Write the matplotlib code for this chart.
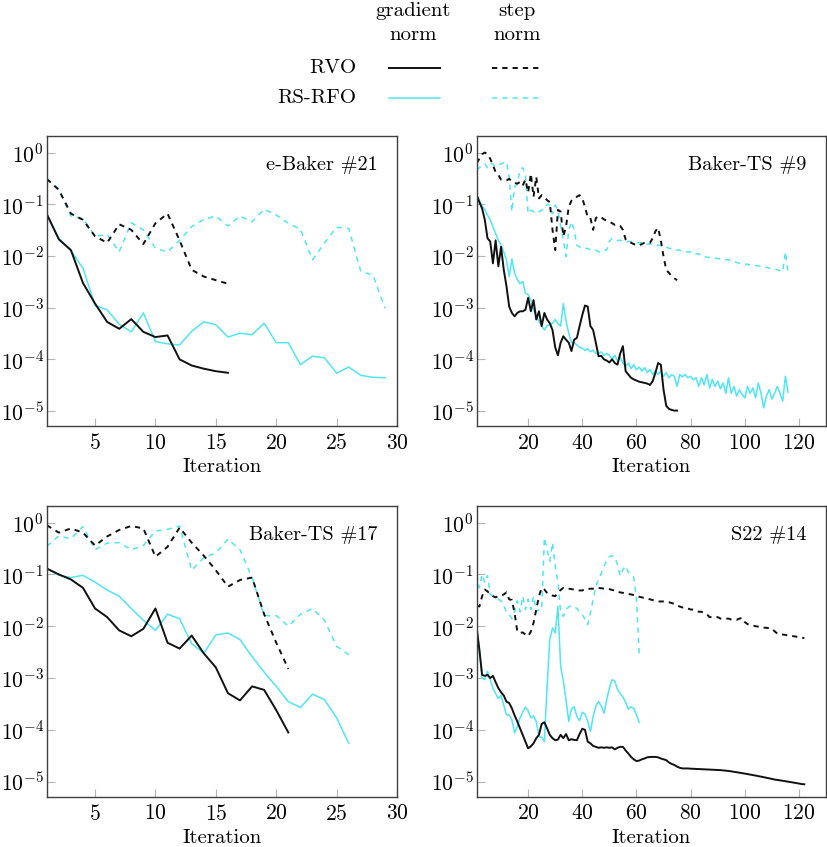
import numpy as np
import matplotlib
matplotlib.use("Agg")
import matplotlib.pyplot as plt
from matplotlib.lines import Line2D
from matplotlib.ticker import NullLocator

plt.rcParams['font.family'] = ['cmr10', 'DejaVu Serif']
plt.rcParams['mathtext.fontset'] = 'cm'
plt.rcParams['axes.formatter.use_mathtext'] = True
plt.rcParams['lines.scale_dashes'] = False

# ---------------- data ----------------
# Panel 1: e-Baker #21
p1_rvo_grad = [0.065, 0.021, 0.013, 0.003, 0.0012, 5.3e-4, 3.9e-4, 6.0e-4, 3.4e-4, 2.7e-4,
               2.9e-4, 1.0e-4, 7.6e-5, 6.6e-5, 5.9e-5, 5.5e-5]
p1_rvo_step = [0.31, 0.19, 0.066, 0.05, 0.024, 0.018, 0.041, 0.032, 0.017, 0.043,
               0.066, 0.02, 0.0054, 0.004, 0.0034, 0.0029]
p1_rs_grad = [0.065, 0.022, 0.0127, 0.0058, 0.0011, 9.1e-4, 4.8e-4, 3.4e-4, 7.9e-4, 2.2e-4,
              2.0e-4, 1.9e-4, 3.5e-4, 5.3e-4, 4.7e-4, 2.7e-4, 3.2e-4, 3.0e-4, 5.0e-4, 2.1e-4,
              2.1e-4, 7.9e-5, 1.15e-4, 1.07e-4, 5.4e-5, 7.1e-5, 4.9e-5, 4.5e-5, 4.4e-5]
p1_rs_step = [0.31, 0.2, 0.059, 0.053, 0.024, 0.026, 0.012, 0.044, 0.032, 0.014,
              0.012, 0.020, 0.037, 0.051, 0.059, 0.038, 0.059, 0.046, 0.080, 0.062,
              0.043, 0.033, 0.0084, 0.018, 0.036, 0.034, 0.005, 0.0043, 0.00098]

# Panel 2: Baker-TS #9
p2_rvo_grad = [1.5e-1, 1.1e-1, 8.3e-2, 5.0e-2, 2.2e-2, 1.9e-2, 7.2e-3, 2.0e-2, 6.3e-3, 1.5e-2,
               5.4e-3, 2.6e-3, 1.05e-3, 7.9e-4, 6.8e-4, 7.9e-4, 8.5e-4, 8.5e-4, 9.1e-4, 1.55e-3,
               8.5e-4, 1.4e-3, 5.9e-4, 8.5e-4, 4.4e-4, 7.9e-4, 5.9e-4, 5.0e-4, 3.7e-4, 1.7e-4,
               1.2e-4, 2.1e-4, 2.8e-4, 2.4e-4, 2.1e-4, 1.45e-4, 2.4e-4, 2.6e-4, 4.4e-4, 7.2e-4,
               1.1e-3, 1.05e-3, 4.4e-4, 3.7e-4, 2.1e-4, 1.15e-4, 1.17e-4, 1.0e-4, 9.5e-5, 8.7e-5,
               1.0e-4, 8.5e-5, 7.9e-5, 1.3e-4, 1.8e-4, 5.9e-5, 5.1e-5, 4.4e-5, 4.1e-5, 3.9e-5,
               3.7e-5, 3.6e-5, 3.5e-5, 3.4e-5, 3.2e-5, 3.8e-5, 5.5e-5, 8.5e-5, 7.9e-5, 2.6e-5,
               1.26e-5, 1.1e-5, 1.05e-5, 1.02e-5, 1.02e-5]
p2_rvo_step = [0.62, 0.76, 0.93, 1.0, 0.93, 0.76, 0.57, 0.42, 0.37, 0.30,
               0.29, 0.29, 0.31, 0.28, 0.26, 0.25, 0.27, 0.23, 0.30, 0.17,
               0.39, 0.14, 0.34, 0.13, 0.15, 0.14, 0.12, 0.11, 0.032, 0.013,
               0.078, 0.072, 0.024, 0.037, 0.089, 0.117, 0.13, 0.14, 0.15, 0.13,
               0.089, 0.056, 0.054, 0.032, 0.054, 0.059, 0.056, 0.051, 0.048, 0.046,
               0.043, 0.040, 0.040, 0.038, 0.032, 0.021, 0.019, 0.018, 0.017, 0.016,
               0.016, 0.017, 0.018, 0.018, 0.018, 0.022, 0.030, 0.035, 0.020, 0.0098,
               0.0054, 0.0047, 0.0041, 0.0037, 0.0034]
p2_rs_grad = [1.5e-1, 1.2e-1, 9.3e-2, 7.8e-2, 6.2e-2, 5.0e-2, 3.7e-2, 2.7e-2, 2.0e-2, 1.6e-2,
              1.2e-2, 8.3e-3, 4.0e-3, 8.7e-3, 4.7e-3, 3.5e-3, 2.9e-3, 3.2e-3, 1.9e-3, 1.8e-3,
              1.4e-3, 9.1e-4, 6.8e-4, 5.5e-4, 4.4e-4, 3.7e-4, 4.5e-4, 4.7e-4, 5.0e-4, 5.9e-4,
              4.9e-4, 4.4e-4, 1.2e-3, 5.5e-4, 3.2e-4, 2.1e-4, 2.1e-4, 1.9e-4, 1.7e-4, 1.65e-4,
              1.5e-4, 1.6e-4, 1.4e-4, 1.5e-4, 1.3e-4, 1.3e-4, 1.4e-4, 1.2e-4, 1.3e-4, 1.2e-4,
              1.0e-4, 1.2e-4, 9.2e-5, 1.1e-4, 8.5e-5, 7.4e-5, 8.5e-5, 6.6e-5, 7.9e-5, 6.3e-5,
              7.1e-5, 5.9e-5, 6.9e-5, 5.6e-5, 6.3e-5, 5.1e-5, 5.9e-5, 5.1e-5, 5.9e-5, 4.7e-5,
              5.5e-5, 4.4e-5, 5.1e-5, 4.7e-5, 3.0e-5, 5.1e-5, 4.6e-5, 5.1e-5, 4.4e-5, 4.7e-5,
              4.0e-5, 4.4e-5, 3.0e-5, 4.4e-5, 3.2e-5, 5.1e-5, 2.8e-5, 4.1e-5, 3.0e-5, 3.8e-5,
              2.7e-5, 3.5e-5, 2.2e-5, 4.4e-5, 2.2e-5, 3.0e-5, 1.95e-5, 2.6e-5, 2.1e-5, 1.8e-5,
              3.0e-5, 2.2e-5, 2.8e-5, 1.8e-5, 3.5e-5, 2.2e-5, 1.15e-5, 1.95e-5, 2.6e-5, 1.7e-5,
              2.2e-5, 3.0e-5, 2.2e-5, 1.55e-5, 4.7e-5, 2.3e-5]
p2_rs_step = [0.46, 0.51, 0.57, 0.61, 0.51, 0.61, 0.60, 0.53, 0.57, 0.61,
              0.63, 0.66, 0.34, 0.072, 0.22, 0.25, 0.46, 0.51, 0.37, 0.066,
              0.077, 0.072, 0.066, 0.072, 0.077, 0.083, 0.10, 0.096, 0.066, 0.096,
              0.077, 0.037, 0.020, 0.0098, 0.032, 0.046, 0.032, 0.016, 0.015, 0.014,
              0.014, 0.014, 0.013, 0.013, 0.013, 0.012, 0.012, 0.013, 0.013, 0.019,
              0.022, 0.021, 0.020, 0.020, 0.020, 0.019, 0.019, 0.019, 0.018, 0.018,
              0.018, 0.018, 0.017, 0.017, 0.017, 0.017, 0.016, 0.016, 0.016, 0.015,
              0.015, 0.014, 0.014, 0.013, 0.013, 0.013, 0.012, 0.012, 0.012, 0.012,
              0.011, 0.011, 0.011, 0.010, 0.010, 0.0095, 0.0093, 0.0091, 0.0090, 0.0089,
              0.0088, 0.0087, 0.0085, 0.0084, 0.0080, 0.0078, 0.0075, 0.0072, 0.0071, 0.0070,
              0.0069, 0.0067, 0.0066, 0.0065, 0.0064, 0.0063, 0.0061, 0.0060, 0.0058, 0.0057,
              0.0056, 0.0054, 0.0052, 0.0050, 0.012, 0.0047]

# Panel 3: Baker-TS #17
p3_rvo_grad = [0.13, 0.10, 0.080, 0.055, 0.022, 0.015, 0.0083, 0.0064, 0.0089, 0.022,
               0.0048, 0.0037, 0.0066, 0.0030, 0.0016, 5.1e-4, 3.7e-4, 6.9e-4, 5.9e-4, 2.4e-4,
               8.9e-5]
p3_rvo_step = [0.89, 0.64, 0.77, 0.64, 0.36, 0.54, 0.72, 0.86, 0.77, 0.22,
               0.34, 0.80, 0.41, 0.23, 0.12, 0.058, 0.078, 0.087, 0.017, 0.0048,
               0.0015]
p3_rs_grad = [0.13, 0.096, 0.087, 0.096, 0.071, 0.050, 0.038, 0.022, 0.013, 0.0083,
              0.017, 0.014, 0.0046, 0.0030, 0.0068, 0.0074, 0.0055, 0.0026, 0.0013, 6.9e-4,
              3.5e-4, 2.7e-4, 4.9e-4, 3.8e-4, 1.7e-4, 5.5e-5]
p3_rs_step = [0.35, 0.55, 0.49, 0.84, 0.30, 0.40, 0.41, 0.30, 0.36, 0.69,
              0.74, 0.86, 0.12, 0.21, 0.26, 0.48, 0.30, 0.087, 0.016, 0.016,
              0.010, 0.017, 0.022, 0.013, 0.0041, 0.0028]

# Panel 4: S22 #14
p4_rvo_grad = [9.3e-3, 3.5e-3, 1.15e-3, 1.1e-3, 1.15e-3, 1.0e-3, 1.1e-3, 8.3e-4, 6.4e-4, 5.3e-4,
               4.6e-4, 3.5e-4, 3.3e-4, 2.6e-4, 1.9e-4, 1.45e-4, 1.07e-4, 8.0e-5, 5.9e-5, 4.4e-5,
               4.8e-5, 5.5e-5, 6.9e-5, 8.0e-5, 1.3e-4, 1.4e-4, 1.07e-4, 8.0e-5, 6.9e-5, 6.3e-5,
               6.5e-5, 8.0e-5, 6.9e-5, 8.3e-5, 6.3e-5, 6.6e-5, 6.4e-5, 6.3e-5, 8.3e-5, 1.05e-4,
               1.0e-4, 5.9e-5, 5.5e-5, 4.9e-5, 4.7e-5, 4.5e-5, 4.6e-5, 4.5e-5, 4.6e-5, 4.5e-5,
               4.6e-5, 4.2e-5, 4.5e-5, 4.7e-5, 4.7e-5, 4.0e-5, 3.5e-5, 3.0e-5, 2.7e-5, 2.5e-5,
               2.55e-5, 2.7e-5, 2.8e-5, 2.95e-5, 3.0e-5, 3.0e-5, 3.0e-5, 2.95e-5, 2.8e-5, 2.7e-5,
               2.6e-5, 2.35e-5, 2.2e-5, 2.1e-5, 1.95e-5, 1.85e-5, 1.8e-5, 1.8e-5, 1.8e-5, 1.78e-5,
               1.77e-5, 1.76e-5, 1.75e-5, 1.74e-5, 1.73e-5, 1.72e-5, 1.71e-5, 1.70e-5, 1.69e-5, 1.68e-5,
               1.67e-5, 1.65e-5, 1.63e-5, 1.61e-5, 1.58e-5, 1.55e-5, 1.52e-5, 1.49e-5, 1.46e-5, 1.43e-5,
               1.40e-5, 1.37e-5, 1.34e-5, 1.31e-5, 1.28e-5, 1.25e-5, 1.22e-5, 1.19e-5, 1.16e-5, 1.13e-5,
               1.10e-5, 1.08e-5, 1.06e-5, 1.04e-5, 1.02e-5, 1.0e-5, 9.8e-6, 9.6e-6, 9.4e-6, 9.2e-6,
               9.0e-6, 8.9e-6]
p4_rvo_step = [0.025, 0.024, 0.038, 0.051, 0.047, 0.041, 0.038, 0.036, 0.038, 0.039,
               0.041, 0.045, 0.033, 0.032, 0.018, 0.0079, 0.0074, 0.0076, 0.0069, 0.0064,
               0.0079, 0.0116, 0.021, 0.038, 0.055, 0.051, 0.044, 0.041, 0.039, 0.038,
               0.045, 0.050, 0.055, 0.053, 0.053, 0.052, 0.051, 0.049, 0.049, 0.049,
               0.052, 0.052, 0.053, 0.053, 0.053, 0.055, 0.054, 0.053, 0.053, 0.052,
               0.050, 0.049, 0.046, 0.045, 0.044, 0.043, 0.042, 0.041, 0.040, 0.039,
               0.037, 0.036, 0.035, 0.034, 0.033, 0.032, 0.031, 0.030, 0.030, 0.030,
               0.029, 0.029, 0.028, 0.027, 0.025, 0.024, 0.023, 0.023, 0.022, 0.021,
               0.021, 0.020, 0.019, 0.019, 0.018, 0.017, 0.015, 0.015, 0.015, 0.015,
               0.014, 0.014, 0.014, 0.014, 0.0135, 0.0135, 0.0133, 0.0140, 0.0145, 0.0120,
               0.0110, 0.0105, 0.0103, 0.0100, 0.0098, 0.0096, 0.0094, 0.0093, 0.0092, 0.0090,
               0.0080, 0.0072, 0.0070, 0.0069, 0.0068, 0.0066, 0.0065, 0.0064, 0.0063, 0.0061,
               0.0060, 0.0059]
p4_rs_grad = [9.3e-3, 3.5e-3, 1.0e-3, 9.3e-4, 1.35e-3, 9.3e-4, 6.4e-4, 5.0e-4, 4.0e-4, 4.6e-4,
              3.0e-4, 1.95e-4, 1.95e-4, 1.55e-4, 8.7e-5, 1.15e-4, 1.7e-4, 2.2e-4, 2.75e-4, 2.35e-4,
              1.7e-4, 1.85e-4, 1.45e-4, 7.4e-5, 7.2e-5, 5.9e-5, 6.9e-4, 5.5e-3, 9.3e-3, 7.4e-3,
              2.4e-2, 1.7e-3, 8.7e-4, 3.8e-4, 1.45e-4, 2.5e-4, 2.8e-4, 1.8e-4, 1.5e-4, 2.2e-4,
              2.0e-4, 1.45e-4, 9.3e-5, 1.8e-4, 2.9e-4, 3.5e-4, 2.9e-4, 2.1e-4, 3.8e-4, 6.4e-4,
              9.3e-4, 8.7e-4, 6.0e-4, 5.0e-4, 4.3e-4, 3.4e-4, 2.5e-4, 2.8e-4, 2.6e-4, 1.95e-4,
              1.4e-4]
p4_rs_step = [0.10, 0.055, 0.10, 0.069, 0.095, 0.041, 0.038, 0.037, 0.033, 0.031,
              0.025, 0.019, 0.017, 0.014, 0.019, 0.031, 0.019, 0.038, 0.021, 0.033,
              0.021, 0.038, 0.019, 0.021, 0.021, 0.51, 0.30, 0.18, 0.41, 0.145,
              0.069, 0.018, 0.0155, 0.021, 0.0235, 0.025, 0.0235, 0.022, 0.019, 0.017,
              0.0135, 0.0107, 0.018, 0.033, 0.059, 0.080, 0.105, 0.145, 0.18, 0.22,
              0.23, 0.22, 0.155, 0.093, 0.125, 0.145, 0.11, 0.10, 0.087, 0.033,
              0.0030]

panels = [
    ("e-Baker #21", p1_rvo_grad, p1_rvo_step, p1_rs_grad, p1_rs_step, (1, 30), [5, 10, 15, 20, 25, 30]),
    ("Baker-TS #9", p2_rvo_grad, p2_rvo_step, p2_rs_grad, p2_rs_step, (1, 130), [20, 40, 60, 80, 100, 120]),
    ("Baker-TS #17", p3_rvo_grad, p3_rvo_step, p3_rs_grad, p3_rs_step, (1, 30), [5, 10, 15, 20, 25, 30]),
    ("S22 #14", p4_rvo_grad, p4_rvo_step, p4_rs_grad, p4_rs_step, (1, 130), [20, 40, 60, 80, 100, 120]),
]

# ---------------- style ----------------
BLACK = '#111111'
CYAN = '#4fe6f2'
DASH = (0, (3.8, 3.6))
FS = 15
TTL = 14.6
TFS = 15.5

W, H = 827, 847
fig = plt.figure(figsize=(W / 100, H / 100), dpi=100)

positions = [
    [0.0565, 0.497, 0.4236, 0.3424],
    [0.5764, 0.497, 0.4224, 0.3424],
    [0.0565, 0.0594, 0.4236, 0.3432],
    [0.5764, 0.0594, 0.4224, 0.3432],
]

for pos, (title, rg, rs, sg, ss, xl, xt) in zip(positions, panels):
    ax = fig.add_axes(pos)
    ax.plot(np.arange(1, len(ss) + 1), ss, color=CYAN, lw=1.1, linestyle=DASH)
    ax.plot(np.arange(1, len(sg) + 1), sg, color=CYAN, lw=1.1)
    ax.plot(np.arange(1, len(rs) + 1), rs, color=BLACK, lw=1.4, linestyle=DASH)
    ax.plot(np.arange(1, len(rg) + 1), rg, color=BLACK, lw=1.4)
    ax.set_yscale('log')
    ax.set_ylim(10 ** -5.29, 10 ** 0.32)
    ax.set_xlim(*xl)
    ax.set_xticks(xt)
    ax.set_yticks([1e0, 1e-1, 1e-2, 1e-3, 1e-4, 1e-5])
    ax.yaxis.set_minor_locator(NullLocator())
    ax.tick_params(direction='in', length=6, width=0.8, color='#b5b5b5',
                   labelsize=TFS, labelcolor='black', top=False, right=False, pad=5)
    ax.tick_params(axis='y', pad=2)
    for sp in ax.spines.values():
        sp.set_color('#404040')
        sp.set_linewidth(1.0)
    ax.set_xlabel('Iteration', fontsize=FS, labelpad=4)
    ax.text(0.944, 0.90, title, transform=ax.transAxes, ha='right', va='center', fontsize=TTL)

# ---------------- legend (custom, at top) ----------------
def fx(px):
    return px / W

def fy(py):
    return 1 - py / H

fig.text(fx(413), fy(11), 'gradient', ha='center', va='center', fontsize=FS)
fig.text(fx(413), fy(35), 'norm', ha='center', va='center', fontsize=FS)
fig.text(fx(517), fy(11), 'step', ha='center', va='center', fontsize=FS)
fig.text(fx(517), fy(35), 'norm', ha='center', va='center', fontsize=FS)
fig.text(fx(356), fy(68), 'RVO', ha='right', va='center', fontsize=FS)
fig.text(fx(356), fy(98), 'RS-RFO', ha='right', va='center', fontsize=FS)

fig.add_artist(Line2D([fx(389), fx(440)], [fy(68), fy(68)], color=BLACK, lw=1.4, transform=fig.transFigure))
fig.add_artist(Line2D([fx(492), fx(540)], [fy(68), fy(68)], color=BLACK, lw=1.4, linestyle=DASH, transform=fig.transFigure))
fig.add_artist(Line2D([fx(389), fx(440)], [fy(98), fy(98)], color=CYAN, lw=1.1, transform=fig.transFigure))
fig.add_artist(Line2D([fx(492), fx(540)], [fy(98), fy(98)], color=CYAN, lw=1.1, linestyle=DASH, transform=fig.transFigure))

fig.savefig('out.png', dpi=100)
